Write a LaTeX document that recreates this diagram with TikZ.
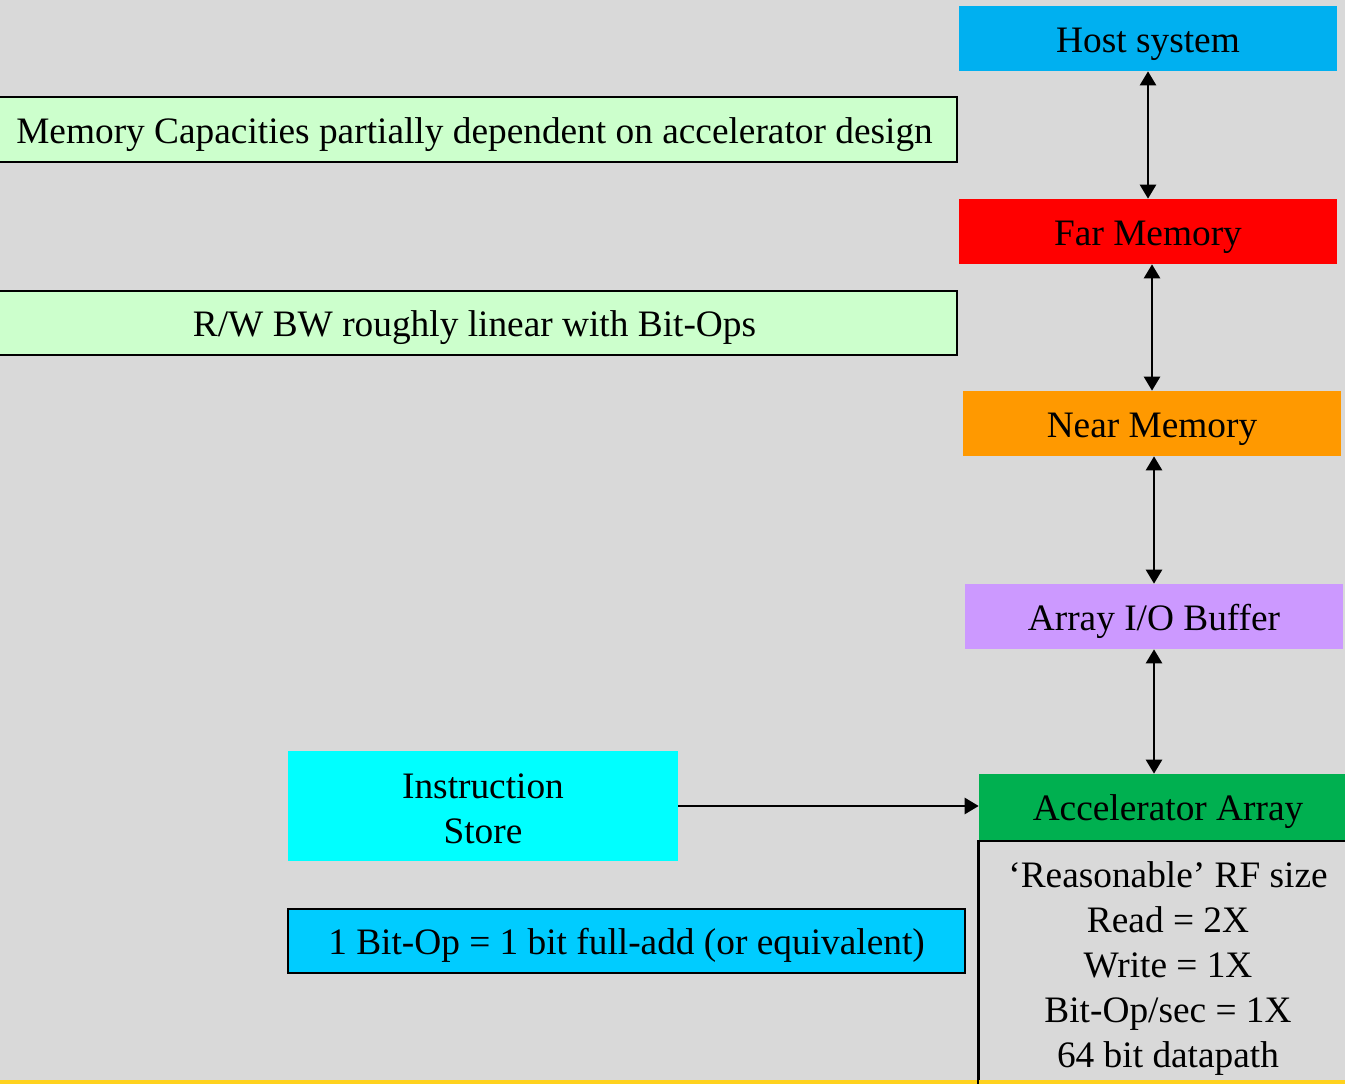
\documentclass[tikz,border=0pt]{standalone}
\usepackage{fontspec}
\setmainfont{Liberation Serif}
\usetikzlibrary{arrows.meta}
\definecolor{bg}{RGB}{217,217,217}
\definecolor{hostblue}{RGB}{0,176,240}
\definecolor{farred}{RGB}{255,0,0}
\definecolor{nearorange}{RGB}{255,153,0}
\definecolor{bufviolet}{RGB}{204,153,255}
\definecolor{accgreen}{RGB}{0,176,80}
\definecolor{notegreen}{RGB}{204,255,204}
\definecolor{instrcyan}{RGB}{0,255,255}
\definecolor{opblue}{RGB}{0,204,255}
\definecolor{baryellow}{RGB}{255,210,30}
\begin{document}
\begin{tikzpicture}[x=0.02cm,y=-0.02cm,
  font=\fontsize{21.25}{25.6}\selectfont,
  plain/.style={inner sep=0pt, align=center, text=black},
  block/.style={plain, text height=15.4pt, text depth=0pt},
  note/.style={block, draw=black, line width=0.04cm},
  biarrow/.style={line width=0.05cm, {Triangle[length=0.28cm,width=0.32cm]}-{Triangle[length=0.28cm,width=0.32cm]}},
  onearrow/.style={line width=0.05cm, -{Triangle[length=0.28cm,width=0.32cm]}}]
\useasboundingbox (0,0) rectangle (1345,1084);
\clip (0,0) rectangle (1345,1084);
\fill[bg] (0,0) rectangle (1345,1084);

% memory hierarchy column
\node[block, fill=hostblue, minimum width=7.56cm, minimum height=1.3cm] (host) at (1148,38.5) {Host system};
\node[block, fill=farred, minimum width=7.56cm, minimum height=1.3cm] (far) at (1148,231.5) {Far Memory};
\node[block, fill=nearorange, minimum width=7.56cm, minimum height=1.3cm] (near) at (1152,423.5) {Near Memory};
\node[block, fill=bufviolet, minimum width=7.56cm, minimum height=1.3cm] (buf) at (1154,616.5) {Array I/O Buffer};
\node[block, fill=accgreen, minimum width=7.56cm, minimum height=1.32cm] (acc) at (1168,807) {Accelerator Array};

% register file properties
\node[plain, fill=bg, draw=black, line width=0.04cm, anchor=north, minimum width=7.56cm, minimum height=5.4cm] (rf) at (1168,840) {};
\node[plain, anchor=north] (rftext) at (1168,861) {‘Reasonable’ RF size\\Read = 2X\\Write = 1X\\Bit-Op/sec = 1X\\64 bit datapath};

% bottom bar
\fill[baryellow] (0,1080) rectangle (1345,1084);
\draw[line width=0.04cm] (rf.north west) -- (rf.south west);

% side notes
\node[note, fill=notegreen, minimum width=19.3cm, minimum height=1.3cm] (cap) at (474.5,129.5) {Memory Capacities partially dependent on accelerator design};
\node[note, fill=notegreen, minimum width=19.3cm, minimum height=1.28cm] (bw) at (474.5,323) {R/W BW roughly linear with Bit-Ops};
\node[plain, fill=instrcyan, minimum width=7.8cm, minimum height=2.2cm] (instr) at (483,806) {};
\node[plain] (instrtext) at (483,809) {Instruction\\Store};
\node[note, fill=opblue, minimum width=13.54cm, minimum height=1.28cm] (bitop) at (626.5,941) {1 Bit-Op = 1 bit full-add (or equivalent)};

% connectors
\draw[biarrow] (host.south) -- (far.north);
\draw[biarrow] (near.north |- far.south) -- (near.north);
\draw[biarrow] (buf.north |- near.south) -- (buf.north);
\draw[biarrow] (buf.south) -- (buf.south |- acc.north);
\draw[onearrow] (instr.east) -- (instr.east -| acc.west);
\end{tikzpicture}
\end{document}
